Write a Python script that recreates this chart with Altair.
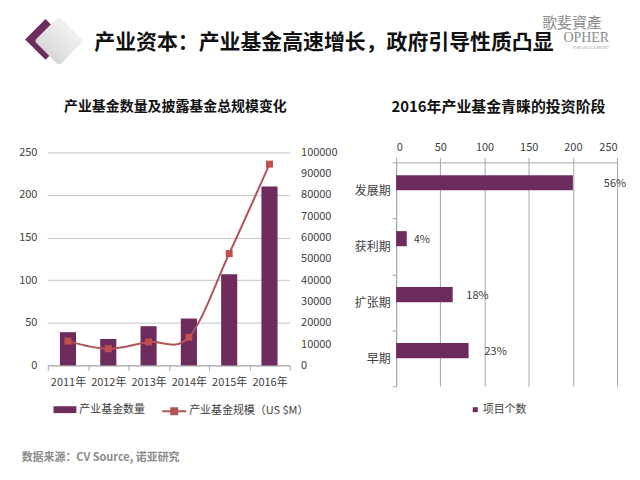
import altair as alt
import pandas as pd

# ---------------- data ----------------
years = ["2011年", "2012年", "2013年", "2014年", "2015年", "2016年"]
fund_counts = [39, 31, 46, 55, 107, 210]
fund_sizes = [11400, 7800, 11000, 13200, 52500, 94500]
count_name = "产业基金数量"
size_name = "产业基金规模（US $M）"

stages = ["发展期", "获利期", "扩张期", "早期"]
stage_counts = [200, 12, 64, 82]
stage_shares = ["56%", "4%", "18%", "23%"]
stage_name = "项目个数"

count_ticks = [0, 50, 100, 150, 200, 250]
size_ticks = [0, 10000, 20000, 30000, 40000, 50000, 60000, 70000, 80000, 90000, 100000]
stage_ticks = [0, 50, 100, 150, 200, 250]

header = "产业资本：产业基金高速增长，政府引导性质凸显"
left_title = "产业基金数量及披露基金总规模变化"
right_title = "2016年产业基金青睐的投资阶段"
source_text = "数据来源：CV Source, 诺亚研究"
logo_cn = "歌斐資產"
logo_en = "OPHER"
logo_sub = "Y MANAGEMENT"

# ---------------- style ----------------
FONT = "Noto Sans CJK SC"
PURPLE = "#6D2C5C"
LINE = "#B0545A"
MARK = "#C0504D"
GRID = "#C4C4C4"
AXIS = "#A6A6A6"
TXT = "#404040"

GREY_GRAD = alt.LinearGradient(
    gradient="linear", x1=1, y1=0, x2=0, y2=1,
    stops=[alt.GradientStop(offset=0, color="#F7F7F7"),
           alt.GradientStop(offset=0.6, color="#E2E2E2"),
           alt.GradientStop(offset=1, color="#C9C9C9")],
)

LW, LH = 243, 204
RW, RH = 222, 225

left_df = pd.DataFrame({
    "year": years, "count": fund_counts, "size": fund_sizes,
    "count_name": [count_name] * len(years), "size_name": [size_name] * len(years),
})
right_df = pd.DataFrame({
    "stage": stages, "count": stage_counts, "share": stage_shares,
    "name": [stage_name] * len(stages),
})


def one(text=""):
    return alt.Chart(pd.DataFrame({"t": [text]}))


def label(text, x, y, **kw):
    return one(text).mark_text(baseline="middle", **kw).encode(
        x=alt.value(x), y=alt.value(y), text="t:N")


# ---------------- left chart ----------------
x_year = alt.X(
    "year:N", sort=years, title=None,
    scale=alt.Scale(paddingInner=0, paddingOuter=0),
    axis=alt.Axis(labelAngle=0, tickBand="extent", domainColor=AXIS, tickColor=AXIS,
                  tickSize=5, labelPadding=6, grid=False),
)

bars = alt.Chart(left_df).mark_bar(width=alt.RelativeBandSize(0.4)).encode(
    x=x_year,
    y=alt.Y("count:Q", title=None,
            scale=alt.Scale(domain=[0, 250], range=[LH, -10], nice=False),
            axis=alt.Axis(values=count_ticks, grid=True, gridColor=GRID, domain=False,
                          ticks=False, labelPadding=11, orient="left")),
    fill=alt.Fill("count_name:N",
                  scale=alt.Scale(domain=[count_name], range=[PURPLE]),
                  legend=alt.Legend(title=None, orient="none", legendX=5.7, legendY=237,
                                    symbolType="M-1,-0.3H1V0.3H-1Z", symbolSize=529,
                                    symbolStrokeWidth=0, labelOffset=3)),
)

y_size = alt.Y("size:Q", title=None,
               scale=alt.Scale(domain=[0, 100000], range=[LH, -10], nice=False),
               axis=alt.Axis(orient="right", values=size_ticks, format="d", grid=False,
                             domain=False, ticks=False, labelPadding=11))

line = alt.Chart(left_df).mark_line(interpolate="cardinal", strokeWidth=2).encode(
    x=x_year, y=y_size,
    stroke=alt.Stroke("size_name:N",
                      scale=alt.Scale(domain=[size_name], range=[LINE]),
                      legend=alt.Legend(title=None, orient="none", legendX=114, legendY=237,
                                        symbolType="M-1,0H1M-0.25,-0.25H0.25V0.25H-0.25Z",
                                        symbolSize=576, symbolStrokeWidth=2,
                                        symbolFillColor=MARK, labelOffset=2)),
)
pts = alt.Chart(left_df).mark_point(shape="square", filled=True, size=49, color=MARK,
                                    opacity=1).encode(x=x_year, y=y_size)

# decorations (header, logo, titles, source)
dia1 = one().mark_point(shape="diamond", filled=True, size=1681, color=PURPLE,
                        strokeWidth=6, strokeJoin="round", opacity=1).encode(
    x=alt.value(-2.3), y=alt.value(-123.5))
dia2 = one().mark_point(shape="diamond", size=1681, fill=GREY_GRAD, stroke=GREY_GRAD,
                        strokeWidth=6, strokeJoin="round", opacity=1,
                        fillOpacity=1).encode(
    x=alt.value(11.2), y=alt.value(-122))
logo1 = label(logo_cn, 496.7, -140.5, font="Noto Sans CJK TC", fontSize=15,
              color="#8C8C8C", align="left")
logo2 = label(logo_en, 564, -124.5, font="Liberation Serif", fontSize=14,
              color="#8C8C8C", align="right")
logo3 = label(logo_sub, 564, -114.5, font="Liberation Serif", fontSize=4.5,
              color="#A0A0A0", align="right")
head = label(header, 46.7, -120, font=FONT, fontSize=21, fontWeight="bold",
             color="#111111", align="left")
ltitle = label(left_title, 128.2, -55.3, font=FONT, fontSize=14, fontWeight="bold",
               color="#111111", align="center")
src = label(source_text, -26.3, 297, font=FONT, fontSize=11, fontWeight="bold",
            color="#8C8C8C", align="left")

left = alt.layer(
    dia1, dia2, logo1, logo2, logo3, head, ltitle, bars, alt.layer(line, pts), src
).resolve_scale(y="independent").properties(width=LW, height=LH)

# ---------------- right chart ----------------
stage_scale = alt.Scale(domain=[0, 250], nice=False)
stage_axis = alt.Axis(orient="top", values=stage_ticks, grid=True, gridColor=AXIS,
                      domainColor=AXIS, tickColor=AXIS, tickSize=5, labelPadding=5)

y_stage = alt.Y("stage:N", sort=stages, title=None,
                scale=alt.Scale(paddingInner=0, paddingOuter=0),
                axis=alt.Axis(tickBand="extent", tickSize=4, labelPadding=2,
                              domainColor=AXIS, tickColor=AXIS, labelFontSize=12))

rbars = alt.Chart(right_df).mark_bar(height=alt.RelativeBandSize(0.27),
                                     yOffset=-7.7, y2Offset=-7.7).encode(
    y=y_stage,
    x=alt.X("count:Q", title=None, scale=stage_scale, axis=stage_axis),
    fill=alt.Fill("name:N", scale=alt.Scale(domain=[stage_name], range=[PURPLE]),
                  legend=alt.Legend(title=None, orient="none", legendX=74, legendY=243,
                                    symbolType="square", symbolSize=25,
                                    symbolStrokeWidth=0, labelOffset=2)),
)
# data labels sit a little beyond the bar end, further out for longer bars
rlabels = alt.Chart(right_df).transform_calculate(
    lx="datum.count * 1.144"
).mark_text(align="left", baseline="middle", dx=5.5, yOffset=-6,
            fontSize=11, color=TXT).encode(
    y=y_stage,
    x=alt.X("lx:Q", title=None, scale=stage_scale, axis=stage_axis),
    text="share:N")
rtitle = label(right_title, 102.8, -55.3, font=FONT, fontSize=15, fontWeight="bold",
               color="#111111", align="center")

right = alt.layer(rbars, rlabels, rtitle).properties(width=RW, height=RH)

chart = alt.hconcat(left, right, spacing=107, bounds="flush").resolve_scale(
    fill="independent", stroke="independent"
).properties(
    padding={"left": 10, "top": 6, "right": 5, "bottom": 5}
).configure(font=FONT).configure_view(stroke=None).configure_axis(
    labelFont=FONT, labelFontSize=11, labelColor=TXT
).configure_legend(
    labelFont=FONT, labelFontSize=11, labelColor=TXT, padding=0
).configure_title(font=FONT)

chart.save("out.html", embed_options={"renderer": "svg", "actions": False})
